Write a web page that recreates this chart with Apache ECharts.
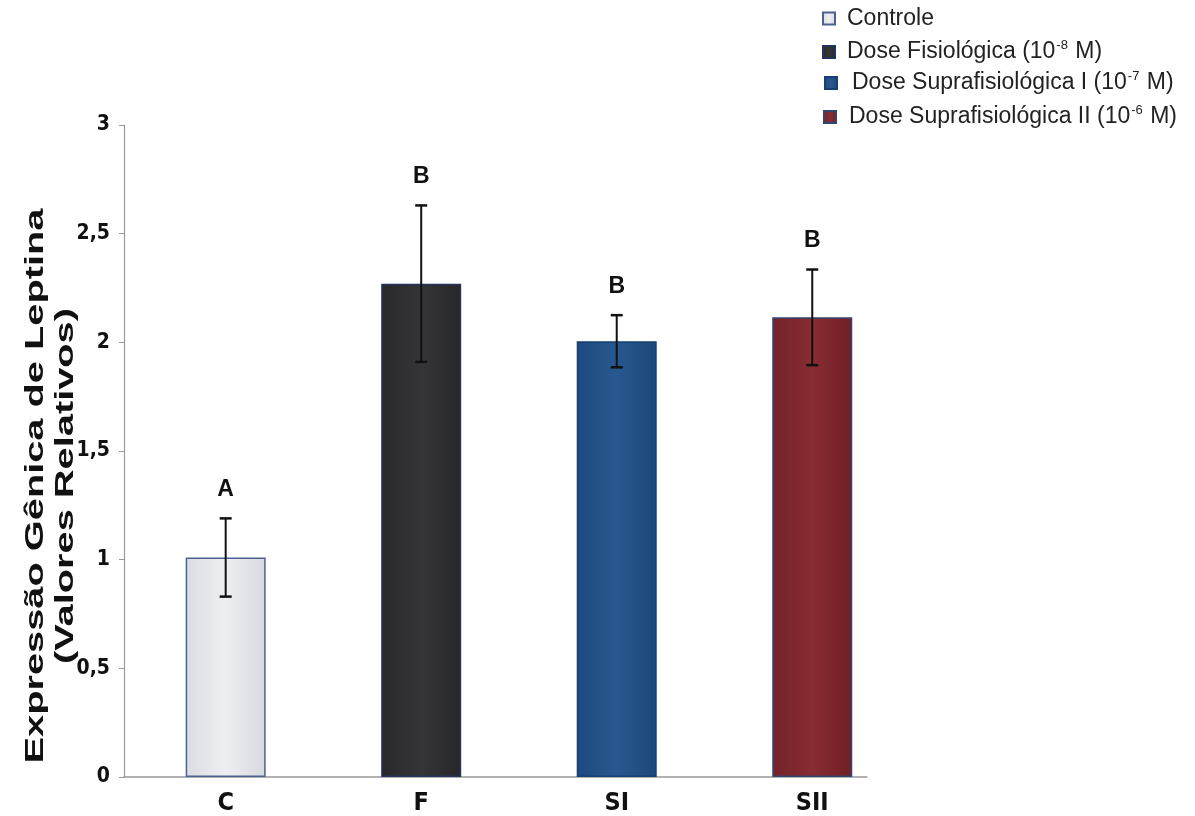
<!DOCTYPE html>
<html>
<head>
<meta charset="utf-8">
<script src="https://cdn.jsdelivr.net/npm/echarts@6/dist/echarts.min.js"></script>
<style>
html,body{margin:0;padding:0;background:#fff;}
#chart{width:1195px;height:816px;}
</style>
</head>
<body>
<div id="chart"></div>
<script>
// ---- data ----
const categories = ['C', 'F', 'SI', 'SII'];
const legendNames = ['Controle', 'Dose Fisiológica', 'Dose Suprafisiológica I', 'Dose Suprafisiológica II'];
const legendExponents = ['', '-8', '-7', '-6'];
const means = [1.01, 2.27, 2.005, 2.115];
const errors = [0.18, 0.36, 0.12, 0.22];
const letters = ['A', 'B', 'B', 'B'];
const yTicks = [0, 0.5, 1, 1.5, 2, 2.5, 3];

// ---- styles ----
const grad = (a, b, c) => ({
  type: 'linear', x: 0, y: 0, x2: 1, y2: 0,
  colorStops: [{offset: 0, color: a}, {offset: 0.5, color: b}, {offset: 1, color: c}]
});
const fills = [
  grad('#d9dce2', '#eeeff2', '#d6d9df'),
  grad('#28282b', '#353538', '#27272a'),
  grad('#1c4a7f', '#285890', '#1b477b'),
  grad('#74222a', '#872c32', '#711f26')
];
const borders = ['#4d6190', '#23335e', '#173f70', '#33456e'];
const legendPos = [
  {left: 822, top: 7},
  {left: 822, top: 39},
  {left: 824, top: 70},
  {left: 823, top: 104}
];
const legendPad = [7, 7, 10, 8];
const narrow = "'Liberation Sans Narrow', 'DejaVu Sans Condensed', 'Liberation Sans', sans-serif";
const sans = "'Liberation Sans', Arial, sans-serif";

const chart = echarts.init(document.getElementById('chart'), null, {renderer: 'canvas'});

const barSeries = categories.map((c, i) => ({
  name: legendNames[i],
  type: 'bar',
  stack: 'all',
  barWidth: 80,
  data: [[i, means[i]]],
  itemStyle: {color: fills[i], borderColor: borders[i], borderWidth: 1.5},
  emphasis: {disabled: true},
  z: 2
}));

const errorSeries = {
  type: 'custom',
  z: 5,
  data: categories.map((c, i) => [i, means[i], errors[i]]),
  encode: {x: 0, y: 1},
  renderItem: (params, api) => {
    const x = api.value(0), m = api.value(1), e = api.value(2);
    const t = api.coord([x, m + e]);
    const b = api.coord([x, m - e]);
    const cap = 6;
    return {
      type: 'group',
      children: [
        {type: 'line', shape: {x1: t[0], y1: t[1], x2: b[0], y2: b[1]}, style: {stroke: '#111', lineWidth: 2}},
        {type: 'line', shape: {x1: t[0] - cap, y1: t[1], x2: t[0] + cap, y2: t[1]}, style: {stroke: '#111', lineWidth: 2.5}},
        {type: 'line', shape: {x1: b[0] - cap, y1: b[1], x2: b[0] + cap, y2: b[1]}, style: {stroke: '#111', lineWidth: 2.5}},
        {type: 'text', style: {
          text: letters[params.dataIndex], x: t[0], y: t[1] - 29,
          align: 'center', verticalAlign: 'middle',
          font: "bold 23px " + sans, fill: '#111'
        }}
      ]
    };
  }
};

const option = {
  backgroundColor: '#fff',
  animation: false,
  legend: legendNames.map((n, i) => ({
    data: [n],
    left: legendPos[i].left,
    top: legendPos[i].top,
    padding: 0,
    itemWidth: 12,
    itemHeight: 12,
    icon: 'rect',
    selectedMode: false,
    formatter: name => {
      const exp = legendExponents[legendNames.indexOf(name)];
      return exp ? '{n|' + name + ' (10}{s|' + exp + '}{n| M)}' : '{n|' + name + '}';
    },
    textStyle: {
      fontFamily: sans,
      fontSize: 23,
      color: '#222',
      padding: [0, 0, 0, legendPad[i]],
      rich: {
        n: {fontSize: 23, color: '#222', fontFamily: sans, lineHeight: 26},
        s: {fontSize: 13, color: '#222', fontFamily: sans, verticalAlign: 'top', lineHeight: 26, padding: [0, 1, 12, 1]}
      }
    }
  })),
  grid: {left: 124, top: 125, right: 328, bottom: 37, containLabel: false},
  xAxis: {
    type: 'value',
    min: -0.52,
    max: 3.28,
    splitLine: {show: false},
    axisLine: {show: true, onZero: false, lineStyle: {color: '#999', width: 1.5}},
    axisTick: {show: false},
    axisLabel: {
      customValues: [0, 1, 2, 3],
      formatter: v => categories[Math.round(v)],
      fontFamily: narrow,
      fontWeight: 'bold',
      fontSize: 25,
      color: '#111',
      margin: 14
    }
  },
  yAxis: {
    type: 'value',
    min: 0,
    max: 3,
    interval: 0.5,
    splitLine: {show: false},
    axisLine: {show: true, onZero: false, lineStyle: {color: '#999', width: 1.2}},
    axisTick: {show: true, inside: false, length: 5, lineStyle: {color: '#999'}},
    axisLabel: {
      formatter: v => String(v).replace('.', ','),
      fontFamily: narrow,
      fontWeight: 'bold',
      fontSize: 21,
      color: '#111',
      margin: 14
    }
  },
  graphic: [{
    type: 'text',
    x: 51,
    y: 486,
    rotation: Math.PI / 2,
    scaleX: 1.53,
    style: {
      text: 'Expressão Gênica de Leptina\n(Valores Relativos)',
      font: "bold 26px " + sans,
      fill: '#111',
      align: 'center',
      verticalAlign: 'middle',
      lineHeight: 30
    }
  }],
  series: [...barSeries, errorSeries]
};
chart.setOption(option);
</script>
</body>
</html>
